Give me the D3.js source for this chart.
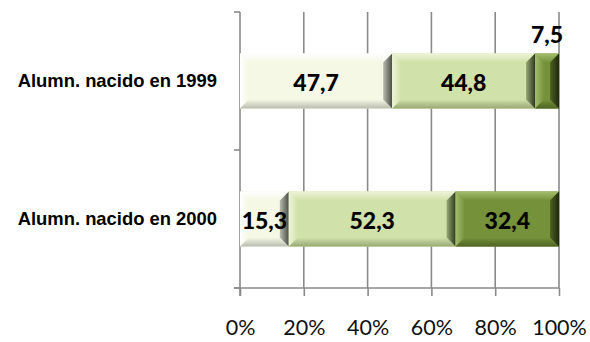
<!DOCTYPE html>
<html><head><meta charset="utf-8">
<script src="https://cdn.jsdelivr.net/npm/d3@7"></script>
<style>html,body{margin:0;padding:0;background:#fff;}</style>
</head><body>
<svg id="chart" width="590" height="342"></svg>
<script>
const categories = ["Alumn. nacido en 1999", "Alumn. nacido en 2000"];
const series1 = [47.7, 15.3];
const series2 = [44.8, 52.3];
const series3 = [7.5, 32.4];
const tickValues = [0, 20, 40, 60, 80, 100];
const tickLabels = ["0%", "20%", "40%", "60%", "80%", "100%"];

(function () {
const seriesList = [series1, series2, series3];
const styles = [
  {face: "#f4f8e4", light: "#ffffff", dark: "#b9bcae", edge: "#4a4d44"},
  {face: "#d1e1aa", light: "#edf5d8", dark: "#97a873", edge: "#2f3920"},
  {face: "#75923b", light: "#a3be6e", dark: "#4e6322", edge: "#1f290b"}
];

const pL = 240, pR = 559, pT = 12, pB = 288;
const svg = d3.select("#chart");

const x = d3.scaleLinear().domain([0, 100]).range([pL, pR]);
const y = d3.scaleBand().domain(categories).range([pT, pB]).paddingInner(0.6).paddingOuter(0.3);

const defs = svg.append("defs");
styles.forEach((s, i) => {
  const mk = (id, x1, y1, x2, y2, c1, c2) => {
    const g = defs.append("linearGradient").attr("id", id)
      .attr("x1", x1).attr("y1", y1).attr("x2", x2).attr("y2", y2);
    g.append("stop").attr("offset", "0%").attr("stop-color", c1);
    g.append("stop").attr("offset", "100%").attr("stop-color", c2);
  };
  mk("t" + i, 0, 1, 0, 0, s.face, s.light);
  mk("l" + i, 1, 0, 0, 0, s.face, s.light);
  mk("b" + i, 0, 0, 0, 1, s.face, s.dark);
  mk("r" + i, 0, 0, 1, 0, s.dark, s.edge);
});

const grid = svg.append("g");
grid.selectAll("line").data(tickValues.slice(1)).join("line")
  .attr("x1", d => x(d)).attr("x2", d => x(d))
  .attr("y1", pT).attr("y2", pB)
  .attr("stroke", "#8a8a8a").attr("stroke-width", 1.6);

const xAxis = d3.axisBottom(x).tickValues(tickValues)
  .tickFormat((d, i) => tickLabels[i]).tickSize(8).tickPadding(24);
const gx = svg.append("g").attr("transform", `translate(0,${pB})`).call(xAxis);
gx.select(".domain").attr("stroke", "#8a8a8a").attr("stroke-width", 1.6).attr("d", `M${pL-6},0H${pR}`);
gx.selectAll(".tick line").attr("stroke", "#8a8a8a").attr("stroke-width", 1.6);
gx.selectAll(".tick text").attr("font-family", "Lato, 'Open Sans', sans-serif")
  .attr("font-size", 21.5).attr("fill", "#111");

const yBounds = [pT, (pT + pB) / 2, pB];
svg.append("line").attr("x1", pL).attr("x2", pL).attr("y1", pT).attr("y2", pB + 8)
  .attr("stroke", "#8a8a8a").attr("stroke-width", 1.6);
svg.selectAll(".ytick").data(yBounds).join("line").attr("class", "ytick")
  .attr("x1", pL - 6).attr("x2", pL).attr("y1", d => d).attr("y2", d => d)
  .attr("stroke", "#8a8a8a").attr("stroke-width", 1.6);

svg.selectAll(".cat").data(categories).join("text").attr("class", "cat")
  .attr("x", 217).attr("y", d => y(d) + y.bandwidth() / 2)
  .attr("dy", "0.35em").attr("text-anchor", "end")
  .attr("font-family", "'Liberation Sans', Arial, sans-serif")
  .attr("font-weight", "bold").attr("font-size", 18.4).attr("fill", "#000")
  .text(d => d);

const bev = 9;
const segs = [];
categories.forEach((c, ci) => {
  let acc = 0;
  seriesList.forEach((s, si) => {
    segs.push({cat: c, si, v: s[ci], x0: acc, x1: acc + s[ci]});
    acc += s[ci];
  });
});
const bars = svg.append("g");
segs.forEach(d => {
  const x0 = x(d.x0), x1 = x(d.x1), y0 = y(d.cat), y1 = y0 + y.bandwidth();
  const b = Math.min(bev, (x1 - x0) / 2.2);
  const g = bars.append("g");
  g.append("rect").attr("x", x0).attr("y", y0).attr("width", x1 - x0).attr("height", y1 - y0)
    .attr("fill", styles[d.si].face);
  const poly = (pts, fill) => g.append("polygon").attr("points", pts.map(p => p.join(",")).join(" ")).attr("fill", fill);
  poly([[x0, y0], [x1, y0], [x1 - b, y0 + b], [x0 + b, y0 + b]], `url(#t${d.si})`);
  poly([[x0, y0], [x0 + b, y0 + b], [x0 + b, y1 - b], [x0, y1]], `url(#l${d.si})`);
  poly([[x0, y1], [x0 + b, y1 - b], [x1 - b, y1 - b], [x1, y1]], `url(#b${d.si})`);
  poly([[x1, y0], [x1, y1], [x1 - b, y1 - b], [x1 - b, y0 + b]], `url(#r${d.si})`);
});

svg.append("g").selectAll("text").data(segs).join("text")
  .attr("x", d => (x(d.x0) + x(d.x1)) / 2)
  .attr("y", d => (x(d.x1) - x(d.x0) < 40) ? y(d.cat) - 10 : y(d.cat) + y.bandwidth() / 2 + 2)
  .attr("dy", d => (x(d.x1) - x(d.x0) < 40) ? "0" : "0.35em")
  .attr("text-anchor", "middle")
  .attr("font-family", "Lato, 'Open Sans', sans-serif")
  .attr("font-weight", 900).attr("font-size", 23).attr("fill", "#000")
  .text(d => d.v.toFixed(1).replace(".", ","));
})();
</script>
</body></html>
